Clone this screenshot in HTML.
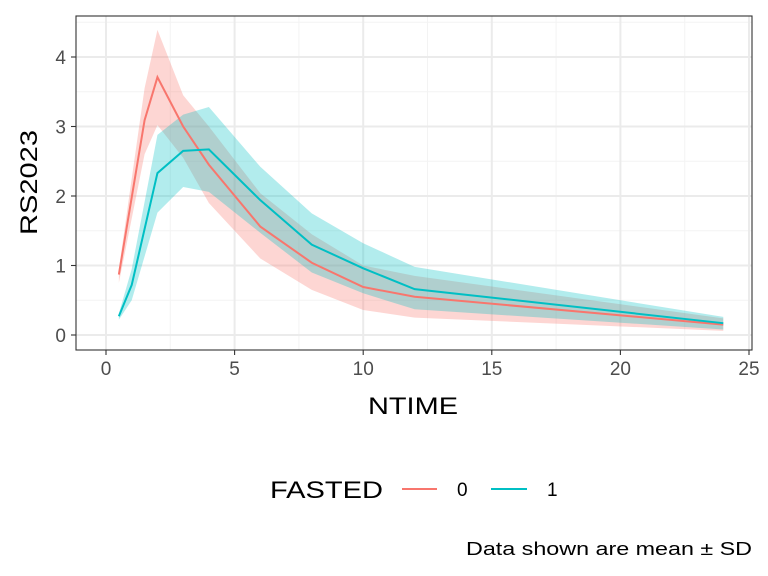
<!DOCTYPE html>
<html><head><meta charset="utf-8"><style>
body{margin:0;background:#fff;}
svg{display:block;font-family:"Liberation Sans",Arial,sans-serif;}
</style></head><body>
<svg id="chart" width="768" height="576" xmlns="http://www.w3.org/2000/svg">
<rect width="768" height="576" fill="#fff"/>
<g id="grid"></g>
<g id="series"></g>
<rect x="76" y="16" width="676" height="334" fill="none" stroke="#333" stroke-width="1.1"/>
<g id="axes"></g>
<text x="368" y="414" font-size="24" textLength="90" lengthAdjust="spacingAndGlyphs" fill="#000">NTIME</text>
<text transform="translate(37,235) rotate(-90)" font-size="24" textLength="105" lengthAdjust="spacingAndGlyphs" fill="#000">RS2023</text>
<g>
<text x="270" y="498" font-size="24" textLength="113" lengthAdjust="spacingAndGlyphs" fill="#000">FASTED</text>
<g><line x1="402" y1="489" x2="437" y2="489" stroke="#F8766D" stroke-width="2"/><text x="457" y="496" font-size="19" fill="#000">0</text></g>
<g><line x1="491" y1="489" x2="527" y2="489" stroke="#00BFC4" stroke-width="2"/><text x="547" y="496" font-size="19" fill="#000">1</text></g>
</g>
<text x="466" y="555" font-size="18" textLength="286" lengthAdjust="spacingAndGlyphs" fill="#000">Data shown are mean ± SD</text>
</svg>
<script>
const times0 = [0.5,1.5,2,3,4,6,8,10,12,24];
const mean0 = [0.87,3.09,3.71,3.0,2.45,1.56,1.04,0.69,0.55,0.15];
const upper0 = [0.95,3.55,4.39,3.45,3.0,2.04,1.45,1.0,0.85,0.24];
const lower0 = [0.75,2.6,3.02,2.55,1.9,1.1,0.65,0.36,0.25,0.06];
const times1 = [0.5,1,2,3,4,6,8,10,12,24];
const mean1 = [0.27,0.72,2.33,2.65,2.67,1.94,1.3,0.96,0.66,0.17];
const upper1 = [0.31,0.95,2.88,3.17,3.28,2.42,1.75,1.32,0.98,0.26];
const lower1 = [0.22,0.5,1.76,2.13,2.06,1.47,0.9,0.6,0.37,0.08];
const xTicks = [0,5,10,15,20,25];
const yTicks = [0,1,2,3,4];
const NS="http://www.w3.org/2000/svg";
const X=v=>106+v*25.72;
const Y=v=>335-v*69.5;
function mk(tag,attrs,parent){const e=document.createElementNS(NS,tag);for(const k in attrs)e.setAttribute(k,attrs[k]);parent.appendChild(e);return e;}
const grid=document.getElementById('grid'),axes=document.getElementById('axes'),series=document.getElementById('series');
for(let i=0;i<xTicks.length-1;i++){const m=(xTicks[i]+xTicks[i+1])/2;const l=mk('line',{x1:X(m),x2:X(m),y1:16,y2:350,stroke:'#f3f3f3','stroke-width':1},grid);

}
for(let i=0;i<yTicks.length;i++){const m=yTicks[i]+0.5;if(Y(m)<16)continue;const l=mk('line',{x1:76,x2:752,y1:Y(m),y2:Y(m),stroke:'#f3f3f3','stroke-width':1},grid);

}
xTicks.forEach(t=>{const l=mk('line',{x1:X(t),x2:X(t),y1:16,y2:350,stroke:'#ebebeb','stroke-width':2},grid);


const tk=mk('line',{x1:X(t),x2:X(t),y1:350,y2:355,stroke:'#333','stroke-width':1.1},axes);


const tx=mk('text',{x:X(t),y:375,'font-size':19,'text-anchor':'middle',fill:'#4d4d4d'},axes);tx.textContent=t;

});
yTicks.forEach(t=>{const l=mk('line',{x1:76,x2:752,y1:Y(t),y2:Y(t),stroke:'#ebebeb','stroke-width':2},grid);


const tk=mk('line',{x1:71,x2:76,y1:Y(t),y2:Y(t),stroke:'#333','stroke-width':1.1},axes);


const tx=mk('text',{x:66,y:Y(t)+7,'font-size':19,'text-anchor':'end',fill:'#4d4d4d'},axes);tx.textContent=t;

});
function band(ts,up,lo,col,name){let d='M'+ts.map((t,i)=>X(t)+','+Y(up[i])).join('L');for(let i=ts.length-1;i>=0;i--)d+='L'+X(ts[i])+','+Y(lo[i]);d+='Z';
const p=mk('path',{d:d,fill:col,'fill-opacity':0.3,stroke:'none'},series);

}
function line(ts,m,col,name){const p=mk('path',{d:'M'+ts.map((t,i)=>X(t)+','+Y(m[i])).join('L'),fill:'none',stroke:col,'stroke-width':2},series);

}
band(times0,upper0,lower0,'#F8766D','sd-band-fasted-0');
band(times1,upper1,lower1,'#00BFC4','sd-band-fasted-1');
line(times0,mean0,'#F8766D','mean-line-fasted-0');
line(times1,mean1,'#00BFC4','mean-line-fasted-1');
</script>
</body></html>
